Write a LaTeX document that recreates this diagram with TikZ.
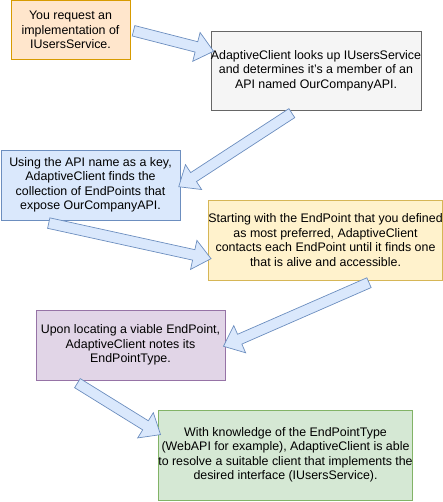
\documentclass[tikz,border=0pt]{standalone}
\usepackage{fontspec}
\setmainfont{Liberation Sans}
\usetikzlibrary{shapes.arrows,calc}
\definecolor{orfill}{HTML}{FFE6CC}\definecolor{ordraw}{HTML}{D79B00}
\definecolor{grfill}{HTML}{F5F5F5}\definecolor{grdraw}{HTML}{666666}
\definecolor{blfill}{HTML}{DAE8FC}\definecolor{bldraw}{HTML}{6C8EBF}
\definecolor{yefill}{HTML}{FFF2CC}\definecolor{yedraw}{HTML}{D6B656}
\definecolor{pufill}{HTML}{E1D5E7}\definecolor{pudraw}{HTML}{9673A6}
\definecolor{gnfill}{HTML}{D5E8D4}\definecolor{gndraw}{HTML}{82B366}
\tikzset{
  box/.style={rectangle, draw, line width=0.8pt, inner sep=0pt, align=center,
    font=\fontsize{12.4}{14.5}\selectfont, text=black},
  flex/.style={single arrow, draw=bldraw, fill=blfill, line width=0.7pt,
    inner xsep=0pt, inner ysep=5pt, single arrow head extend=9.5pt,
    single arrow tip angle=80},
}
\newcommand{\flexarrow}[2]{%
  \path let \p1=($(#2)-(#1)$), \n1={atan2(\y1,\x1)}, \n2={veclen(\x1,\y1)} in
    node[flex, minimum height=\n2, rotate=\n1] at ($(#1)!0.5!(#2)$) {};}
\begin{document}
\begin{tikzpicture}[x=1pt,y=-1pt]
\useasboundingbox (0,0) rectangle (442,502);
\node[box, fill=orfill, draw=ordraw, minimum width=119pt, minimum height=59pt] (b1) at (70.5,30)
  {You request an\\implementation of\\IUsersService.};
\node[box, fill=grfill, draw=grdraw, minimum width=210pt, minimum height=79pt] (b2) at (316,70.5)
  {AdaptiveClient looks up IUsersService\\and determines it's a member of an\\API named OurCompanyAPI.};
\node[box, fill=blfill, draw=bldraw, minimum width=179pt, minimum height=70pt] (b3) at (90.5,185)
  {Using the API name as a key,\\AdaptiveClient finds the\\collection of EndPoints that\\expose OurCompanyAPI.};
\node[box, fill=yefill, draw=yedraw, minimum width=230pt, minimum height=80pt] (b4) at (325.5,240)
  {Starting with the EndPoint that you defined\\as most preferred, AdaptiveClient\\contacts each EndPoint until it finds one\\that is alive and accessible.};
\node[box, fill=pufill, draw=pudraw, minimum width=189pt, minimum height=70pt] (b5) at (130.5,345)
  {Upon locating a viable EndPoint,\\AdaptiveClient notes its\\EndPointType.};
\node[box, fill=gnfill, draw=gndraw, minimum width=251pt, minimum height=90pt] (b6) at (285.5,455)
  {With knowledge of the EndPointType\\(WebAPI for example), AdaptiveClient is able\\to resolve a suitable client that implements the\\desired interface (IUsersService).};
% connector end points, relative to the boxes
\coordinate (a1s) at ($(b1.east)+(0,0)$);
\coordinate (a1e) at ($(b2.west)+(0,-20)$);
\coordinate (a2s) at ($(b2.south west)+(84,1)$);
\coordinate (a2e) at ($(b3.east)+(1,0)$);
\coordinate (a3s) at ($(b3.south west)+(45,2)$);
\coordinate (a3e) at ($(b4.west)+(0,18)$);
\coordinate (a4s) at ($(b4.south west)+(164,1)$);
\coordinate (a4e) at ($(b5.east)+(1,0)$);
\coordinate (a5s) at ($(b5.south west)+(39,1)$);
\coordinate (a5e) at ($(b6.west)+(0,-22)$);
\flexarrow{a1s}{a1e}
\flexarrow{a2s}{a2e}
\flexarrow{a3s}{a3e}
\flexarrow{a4s}{a4e}
\flexarrow{a5s}{a5e}
\end{tikzpicture}
\end{document}
